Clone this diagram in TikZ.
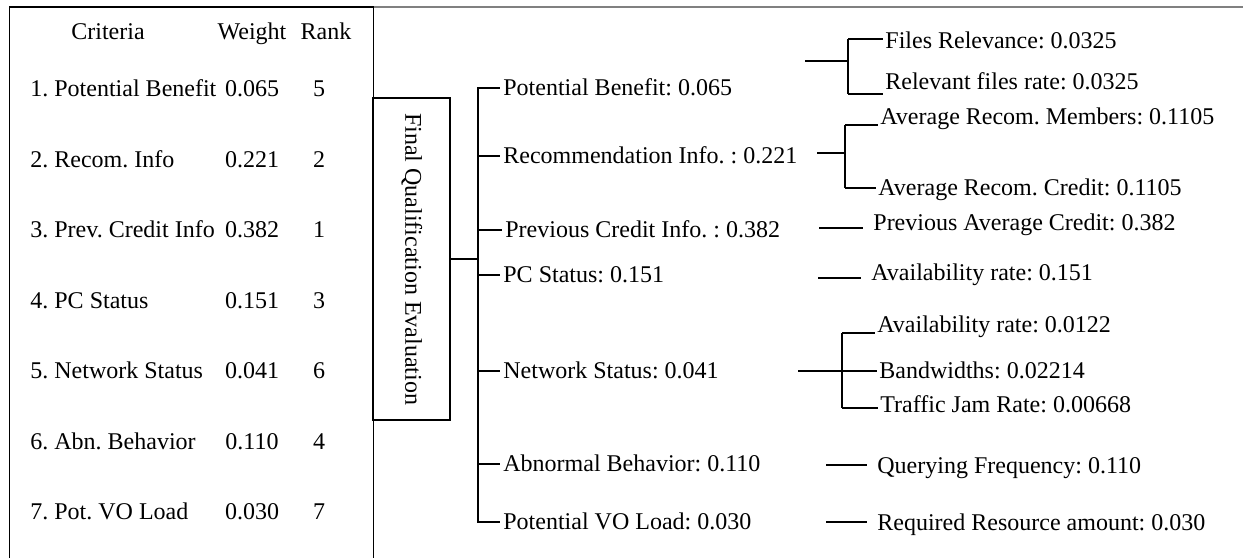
\documentclass[tikz,border=0pt]{standalone}
\usepackage{fontspec}
\setmainfont{Liberation Serif}
\begin{document}
\frenchspacing
\begin{tikzpicture}[x=0.5pt,y=-0.5pt,
  every node/.style={font=\fontsize{12}{14}\selectfont, text height=7.9pt, text depth=0pt, inner ysep=0pt},
  ln/.style={line width=0.8pt, black},
  lab/.style={anchor=west, inner xsep=1.5pt},
  leaf/.style={anchor=west, inner xsep=1pt},
  farleaf/.style={anchor=west, inner xsep=5pt},
  cell/.style={anchor=center, inner xsep=0pt},
  crit/.style={anchor=west, inner xsep=0pt}]
\useasboundingbox (0,0) rectangle (1243,558);
% frames
\draw[ln, line width=0.65pt] (9.5,558) -- (9.5,7) -- (373.5,7) -- (373.5,558);
\draw[line width=1pt, gray] (374,6.5) -- (1243,6.5);
% table
\node[cell] (hc) at (108,32) {Criteria};
\node[cell] (hw) at (252,32) {Weight};
\node[cell] (hr) at (326,32) {Rank};
\foreach \i/\c/\w/\r in {1/1. Potential Benefit/0.065/5, 2/2. Recom. Info/0.221/2, 3/3. Prev. Credit Info/0.382/1, 4/4. PC Status/0.151/3, 5/5. Network Status/0.041/6, 6/6. Abn. Behavior/0.110/4, 7/7. Pot. VO Load/0.030/7}{
  \node[crit] (c\i) at (30,{89+70.5*(\i-1)}) {\c};
  \node[cell] (w\i) at (252,{89+70.5*(\i-1)}) {\w};
  \node[cell] (r\i) at (319,{89+70.5*(\i-1)}) {\r};
}
% root box
\node[draw, line width=0.8pt, minimum width=38.5pt, minimum height=161pt, inner sep=0pt, text height=, text depth=] (fqe) at (411.75,259) {\rotatebox{-90}{Final Qualification Evaluation}};
\coordinate (t) at (478,259);
% level 1
\node[lab] (pb) at (500,88) {Potential Benefit: 0.065};
\node[lab] (ri) at (500,156) {Recommendation Info. : 0.221};
\node[lab] (pc) at (502,230) {Previous Credit Info. : 0.382};
\node[lab] (ps) at (500,275) {PC Status: 0.151};
\node[lab] (ns) at (500,371) {Network Status: 0.041};
\node[lab] (ab) at (500,464) {Abnormal Behavior: 0.110};
\node[lab] (vo) at (500,522) {Potential VO Load: 0.030};
\draw[ln] (fqe.east |- t) -- (t);
\foreach \n in {pb,ri,pc,ps,ns,ab,vo}{ \draw[ln] (t) |- (\n.west); }
% level 2: potential benefit
\node[leaf] (fr) at (883,41) {Files Relevance: 0.0325};
\node[leaf] (rf) at (883,82) {Relevant files rate: 0.0325};
\coordinate (s1) at (805,61); \coordinate (g1) at (848,61);
\coordinate (g1t) at (848,39); \coordinate (g1b) at (848,94);
\draw[ln] (s1) -- (g1);
\draw[ln] (g1t) -- (g1b);
\draw[ln] (g1t) -- (g1t -| fr.west);
\draw[ln] (g1b) -- (g1b -| rf.west);
% recommendation
\node[leaf] (am) at (878,117) {Average Recom. Members: 0.1105};
\node[leaf] (ac) at (876,187.5) {Average Recom. Credit: 0.1105};
\coordinate (s2) at (817,153); \coordinate (g2) at (845,153);
\coordinate (g2t) at (845,125); \coordinate (g2b) at (845,188);
\draw[ln] (s2) -- (g2);
\draw[ln] (g2t) -- (g2b);
\draw[ln] (g2t) -- (g2t -| am.west);
\draw[ln] (g2b) -- (g2b -| ac.west);
% previous credit
\node[farleaf] (pa) at (863,223) {Previous Average Credit: 0.382};
\coordinate (s3) at (819,228);
\draw[ln] (s3) -- (s3 -| pa.west);
% pc status
\node[farleaf] (ar) at (861,273) {Availability rate: 0.151};
\coordinate (s4) at (818,278);
\draw[ln] (s4) -- (s4 -| ar.west);
% network
\node[leaf] (na) at (875,325) {Availability rate: 0.0122};
\node[leaf] (bw) at (877,371) {Bandwidths: 0.02214};
\node[leaf] (tj) at (878,405) {Traffic Jam Rate: 0.00668};
\coordinate (s5) at (798,371); \coordinate (g5) at (842,371);
\coordinate (g5t) at (842,333); \coordinate (g5b) at (842,408);
\draw[ln] (s5) -- (bw.west);
\draw[ln] (g5t) -- (g5b);
\draw[ln] (g5t) -- (g5t -| na.west);
\draw[ln] (g5b) -- (g5b -| tj.west);
% abnormal behavior
\node[farleaf] (qf) at (867,466) {Querying Frequency: 0.110};
\coordinate (s6) at (826,465);
\draw[ln] (s6) -- (s6 -| qf.west);
% VO load
\node[farleaf] (rr) at (867,523) {Required Resource amount: 0.030};
\coordinate (s7) at (826,522);
\draw[ln] (s7) -- (s7 -| rr.west);
\end{tikzpicture}
\end{document}
